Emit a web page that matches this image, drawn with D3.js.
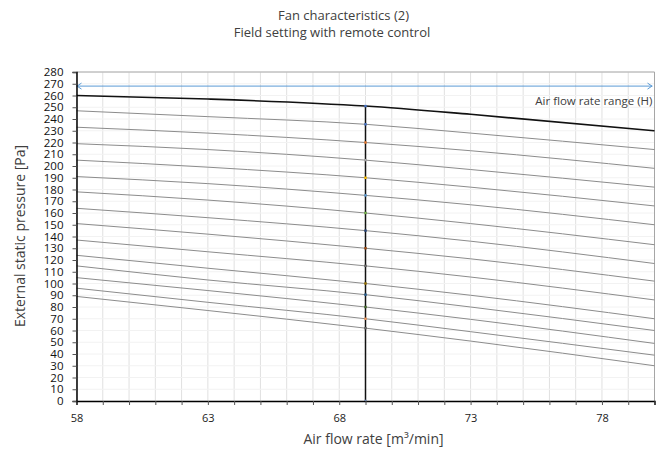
<!DOCTYPE html>
<html>
<head>
<meta charset="utf-8">
<script src="https://cdn.jsdelivr.net/npm/d3@7"></script>
<style>
  html, body { margin: 0; padding: 0; background: #fff; }
  svg { display: block; font-family: "Open Sans", "Noto Sans", sans-serif; }
</style>
</head>
<body>
<svg id="chart" width="661" height="450"></svg>
<script>
// ---- data ----
const titleLines = ["Fan characteristics (2)", "Field setting with remote control"];
const xLabel = "Air flow rate [m³/min]";
const yLabel = "External static pressure [Pa]";
const rangeLabel = "Air flow rate range (H)";

const xTicks = [58, 63, 68, 73, 78];
const yTicks = [0,10,20,30,40,50,60,70,80,90,100,110,120,130,140,150,160,170,180,190,200,210,220,230,240,250,260,270,280];

// airflow positions where curves were read
const airflow = [58, 63, 69, 73, 80];
// fan curves (external static pressure, Pa), top (H) to bottom
const curve01 = [260, 257, 251, 244, 230];
const curve02 = [247, 242, 235.5, 228, 214];
const curve03 = [233, 228, 220, 213, 198];
const curve04 = [219, 214, 205, 197, 182];
const curve05 = [205, 199, 190, 182, 166];
const curve06 = [191, 185, 175, 167, 150];
const curve07 = [178, 171, 160, 151, 133];
const curve08 = [164, 156, 145, 136, 117];
const curve09 = [151, 142, 130, 121, 102];
const curve10 = [137, 127, 115, 105.5, 86];
const curve11 = [124, 113, 100, 90, 70];
const curve12 = [115, 103, 90.5, 80, 60];
const curve13 = [105, 94, 80, 69.5, 49];
const curve14 = [96, 84, 70, 59, 39];
const curve15 = [89, 77, 62, 51, 30];

// rated airflow marker line
const ratedAirflow = [69, 69];
const ratedPressure = [0, 251];
// airflow range (H) arrow
const rangeAirflow = [58, 80];
const rangePressure = [268, 268];

const markerColors = ["#4472c4","#4472c4","#ed7d31","#a5a5a5","#ffc000","#5b9bd5","#70ad47","#264478","#9e480e","#636363","#997300","#255e91","#43682b","#f1975a","#636363"];

// ---- chart ----
const curves = [curve01,curve02,curve03,curve04,curve05,curve06,curve07,curve08,curve09,curve10,curve11,curve12,curve13,curve14,curve15];

const svg = d3.select("#chart");
const margin = {left: 76.5, right: 661 - 654.5, top: 72, bottom: 450 - 401};
const W = 661, H = 450;

const x = d3.scaleLinear().domain([58, 80]).range([margin.left, W - margin.right]);
const y = d3.scaleLinear().domain([0, 280]).range([H - margin.bottom, margin.top]);

// gridlines
const minorX = d3.range(58, 81, 1);
svg.append("g").selectAll("line").data(minorX).join("line")
  .attr("x1", d => x(d)).attr("x2", d => x(d))
  .attr("y1", y(0)).attr("y2", y(280))
  .attr("stroke", "#e0e0e0").attr("stroke-width", 1);
svg.append("g").selectAll("line").data(yTicks).join("line")
  .attr("x1", x(58)).attr("x2", x(80))
  .attr("y1", d => y(d)).attr("y2", d => y(d))
  .attr("stroke", "#f2f2f2").attr("stroke-width", 1);

// plot border (top & right)
svg.append("path")
  .attr("d", `M${x(58)},${y(280)}H${x(80)}V${y(0)}`)
  .attr("fill", "none").attr("stroke", "#a6a6a6").attr("stroke-width", 1);

// curves
const line = d3.line().x((d, i) => x(airflow[i])).y(d => y(d)).curve(d3.curveMonotoneX);
svg.append("g").selectAll("path").data(curves).join("path")
  .attr("d", d => line(d))
  .attr("fill", "none")
  .attr("stroke", (d, i) => i === 0 ? "#111" : "#8c8c8c")
  .attr("stroke-width", (d, i) => i === 0 ? 1.6 : 1);

// rated airflow vertical line
svg.append("line")
  .attr("x1", x(ratedAirflow[0])).attr("x2", x(ratedAirflow[1]))
  .attr("y1", y(ratedPressure[0])).attr("y2", y(ratedPressure[1]))
  .attr("stroke", "#111").attr("stroke-width", 1.5);

// markers at intersection points
svg.append("g").selectAll("rect").data(curves).join("rect")
  .attr("x", x(airflow[2]) - 1.2).attr("y", d => y(d[2]) - 1.2)
  .attr("width", 2.4).attr("height", 2.4)
  .attr("fill", (d, i) => markerColors[i]);
svg.append("rect").attr("x", x(ratedAirflow[0]) - 1.2).attr("y", y(ratedPressure[0]) - 1.2)
  .attr("width", 2.4).attr("height", 2.4).attr("fill", "#8faadc");

// range arrow
const ay = y(rangePressure[0]);
const ax0 = x(rangeAirflow[0]), ax1 = x(rangeAirflow[1]) - 2;
svg.append("line").attr("x1", ax0).attr("x2", ax1).attr("y1", ay).attr("y2", ay)
  .attr("stroke", "#5b9bd5").attr("stroke-width", 1);
svg.append("path").attr("d", `M${ax0 + 5},${ay - 3}L${ax0 + 0.5},${ay}L${ax0 + 5},${ay + 3}`)
  .attr("fill", "none").attr("stroke", "#5b9bd5").attr("stroke-width", 1);
svg.append("path").attr("d", `M${ax1 - 5},${ay - 3}L${ax1 - 0.5},${ay}L${ax1 - 5},${ay + 3}`)
  .attr("fill", "none").attr("stroke", "#5b9bd5").attr("stroke-width", 1);
svg.append("text").attr("x", x(80) - 2).attr("y", ay + 19)
  .attr("text-anchor", "end").attr("font-size", 11.5).attr("fill", "#404040")
  .text(rangeLabel);

// axes
const xAxis = d3.axisBottom(x).tickValues(minorX).tickSize(4)
  .tickFormat(d => xTicks.includes(d) ? d : "");
const gx = svg.append("g").attr("transform", `translate(0,${y(0)})`).call(xAxis);
gx.select(".domain").attr("stroke", "#000").attr("stroke-width", 1.5);
gx.selectAll(".tick line").attr("stroke", "#555");
gx.selectAll("text").attr("font-size", 11).attr("fill", "#222").attr("dy", "1.25em")
  .style("font-family", "'Open Sans', sans-serif");

const yAxis = d3.axisLeft(y).tickValues(yTicks).tickSize(4).tickPadding(9);
const gy = svg.append("g").attr("transform", `translate(${x(58)},0)`).call(yAxis);
gy.select(".domain").attr("stroke", "#000").attr("stroke-width", 1.5);
gy.selectAll(".tick line").attr("stroke", "#555");
gy.selectAll("text").attr("font-size", 11.5).attr("fill", "#111")
  .style("font-family", "'Open Sans', sans-serif");

// titles
svg.append("text").attr("x", 343.5).attr("y", 20).attr("text-anchor", "middle")
  .attr("font-size", 13).attr("fill", "#404040").text(titleLines[0]);
svg.append("text").attr("x", 332).attr("y", 37).attr("text-anchor", "middle")
  .attr("font-size", 13).attr("fill", "#404040").text(titleLines[1]);

svg.append("text").attr("x", 373.5).attr("y", 444).attr("text-anchor", "middle")
  .attr("font-size", 14).attr("fill", "#404040").text(xLabel);

svg.append("text").attr("transform", `translate(25,${236}) rotate(-90)`)
  .attr("text-anchor", "middle").attr("font-size", 14).attr("fill", "#404040")
  .text(yLabel);
</script>
</body>
</html>
